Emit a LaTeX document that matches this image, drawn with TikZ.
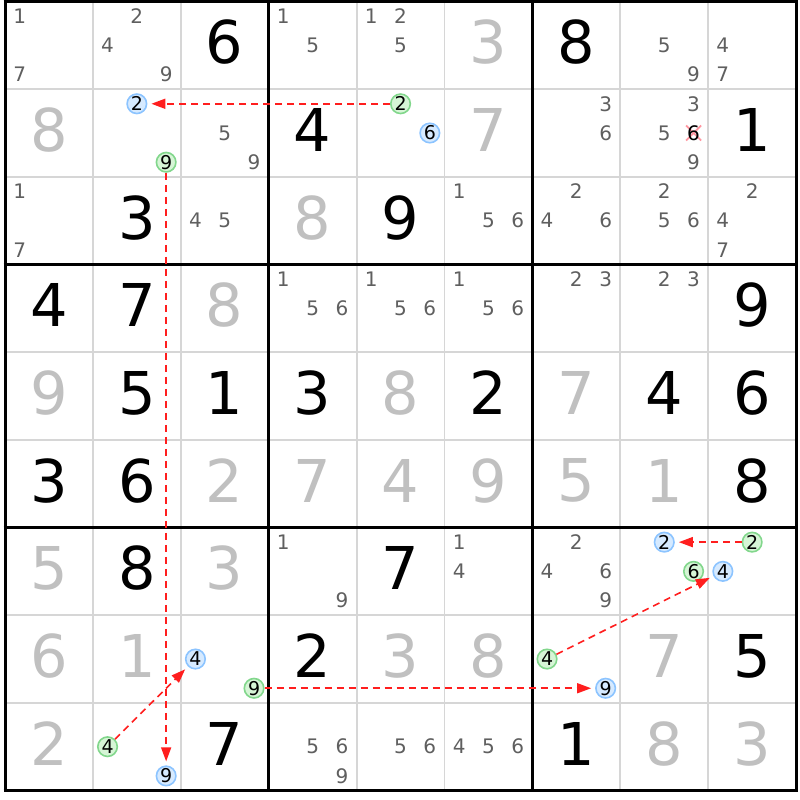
\documentclass[tikz,border=0pt]{standalone}
\usepackage{fontspec}
\setmainfont{DejaVu Sans}
\usetikzlibrary{arrows.meta}
\definecolor{candgray}{RGB}{95,95,95}
\definecolor{solvgray}{RGB}{192,192,192}
\definecolor{gridgray}{RGB}{214,214,214}
\definecolor{bluefill}{RGB}{214,234,255}
\definecolor{bluedraw}{RGB}{140,196,255}
\definecolor{greenfill}{RGB}{214,245,214}
\definecolor{greendraw}{RGB}{130,215,140}
\definecolor{linkred}{RGB}{255,30,30}
\definecolor{xpink}{RGB}{255,150,160}
\newcommand\cellxy[2]{%
  \pgfmathsetmacro\cxx{5+(#2-0.5)*87.9}%
  \pgfmathsetmacro\cyy{1.5+(#1-0.5)*87.67}}
\newcommand\subxy[3]{%
  \pgfmathsetmacro\sxx{5+(#2-1)*87.9+(mod(#3-1,3)+0.5)*29.3}%
  \pgfmathsetmacro\syy{1.5+(#1-1)*87.67+(floor((#3-1)/3)+0.5)*29.22}}
\newcommand\cnd[3]{\foreach \dd in {#3}{\subxy{#1}{#2}{\dd}\node[cand] (k#1#2\dd) at (\sxx,\syy) {\dd};}}
\newcommand\gvn[3]{\cellxy{#1}{#2}\node[givendig] (g#1#2) at (\cxx,\cyy-3) {#3};}
\newcommand\slv[3]{\cellxy{#1}{#2}\node[solvdig] (s#1#2) at (\cxx,\cyy-3) {#3};}
\newcommand\bcirc[4]{\subxy{#2}{#3}{#4}\node[bluec] (#1) at (\sxx,\syy) {#4};}
\newcommand\gcirc[4]{\subxy{#2}{#3}{#4}\node[greenc] (#1) at (\sxx,\syy) {#4};}
\tikzset{
  cand/.style={font=\fontsize{20}{20}\selectfont, text=candgray, inner sep=0pt},
  givendig/.style={font=\fontsize{59}{59}\selectfont, text=black, inner sep=0pt},
  solvdig/.style={givendig, text=solvgray},
  circbase/.style={circle, line width=1.6pt, minimum size=19.5pt, inner sep=0pt, font=\fontsize{19}{19}\selectfont, text=black},
  bluec/.style={circbase, draw=bluedraw, fill=bluefill},
  greenc/.style={circbase, draw=greendraw, fill=greenfill},
  thin grid/.style={draw=gridgray, line width=1.8pt},
  thick grid/.style={draw=black, line width=3pt},
  link/.style={draw=linkred, line width=1.6pt, dash pattern=on 7pt off 5pt, -{Triangle[length=14pt,width=10pt]}, shorten >=4pt}
}
\begin{document}
\begin{tikzpicture}[x=1pt,y=-1pt]
\useasboundingbox (0,0) rectangle (800,800);
\fill[white] (0,0) rectangle (800,800);
% grid
\foreach \i in {1,2,4,5,7,8}{
  \draw[thin grid] ({5+\i*87.9},1.5) -- ({5+\i*87.9},790.5);
  \draw[thin grid] (5,{1.5+\i*87.67}) -- (796,{1.5+\i*87.67});
}
\foreach \i in {0,3,6,9}{
  \draw[thick grid] ({5+\i*87.9},0) -- ({5+\i*87.9},792);
  \draw[thick grid] (3.5,{1.5+\i*87.67}) -- (797.5,{1.5+\i*87.67});
}
% row 1
\cnd{1}{1}{1,7} \cnd{1}{2}{2,4,9} \gvn{1}{3}{6} \cnd{1}{4}{1,5} \cnd{1}{5}{1,2,5}
\slv{1}{6}{3} \gvn{1}{7}{8} \cnd{1}{8}{5,9} \cnd{1}{9}{4,7}
% row 2
\slv{2}{1}{8} \bcirc{c22b2}{2}{2}{2} \gcirc{c22g9}{2}{2}{9} \cnd{2}{3}{5,9} \gvn{2}{4}{4}
\gcirc{c25g2}{2}{5}{2} \bcirc{c25b6}{2}{5}{6} \slv{2}{6}{7} \cnd{2}{7}{3,6} \cnd{2}{8}{3,5,9}
\subxy{2}{8}{6}
\coordinate (xpos) at (\sxx,\syy);
\draw[xpink, line width=1.8pt] (xpos) +(-7.5,-7.5) -- +(7.5,7.5) (xpos) +(-7.5,7.5) -- +(7.5,-7.5);
\node[cand, text=black] (k286) at (xpos) {6};
\gvn{2}{9}{1}
% row 3
\cnd{3}{1}{1,7} \gvn{3}{2}{3} \cnd{3}{3}{4,5} \slv{3}{4}{8} \gvn{3}{5}{9} \cnd{3}{6}{1,5,6}
\cnd{3}{7}{2,4,6} \cnd{3}{8}{2,5,6} \cnd{3}{9}{2,4,7}
% row 4
\gvn{4}{1}{4} \gvn{4}{2}{7} \slv{4}{3}{8} \cnd{4}{4}{1,5,6} \cnd{4}{5}{1,5,6} \cnd{4}{6}{1,5,6}
\cnd{4}{7}{2,3} \cnd{4}{8}{2,3} \gvn{4}{9}{9}
% row 5
\slv{5}{1}{9} \gvn{5}{2}{5} \gvn{5}{3}{1} \gvn{5}{4}{3} \slv{5}{5}{8} \gvn{5}{6}{2}
\slv{5}{7}{7} \gvn{5}{8}{4} \gvn{5}{9}{6}
% row 6
\gvn{6}{1}{3} \gvn{6}{2}{6} \slv{6}{3}{2} \slv{6}{4}{7} \slv{6}{5}{4} \slv{6}{6}{9}
\slv{6}{7}{5} \slv{6}{8}{1} \gvn{6}{9}{8}
% row 7
\slv{7}{1}{5} \gvn{7}{2}{8} \slv{7}{3}{3} \cnd{7}{4}{1,9} \gvn{7}{5}{7} \cnd{7}{6}{1,4}
\cnd{7}{7}{2,4,6,9} \bcirc{c78b2}{7}{8}{2} \gcirc{c78g6}{7}{8}{6}
\gcirc{c79g2}{7}{9}{2} \bcirc{c79b4}{7}{9}{4}
% row 8
\slv{8}{1}{6} \slv{8}{2}{1} \bcirc{c83b4}{8}{3}{4} \gcirc{c83g9}{8}{3}{9} \gvn{8}{4}{2}
\slv{8}{5}{3} \slv{8}{6}{8} \gcirc{c87g4}{8}{7}{4} \bcirc{c87b9}{8}{7}{9} \slv{8}{8}{7} \gvn{8}{9}{5}
% row 9
\slv{9}{1}{2} \gcirc{c92g4}{9}{2}{4} \bcirc{c92b9}{9}{2}{9} \gvn{9}{3}{7} \cnd{9}{4}{5,6,9}
\cnd{9}{5}{5,6} \cnd{9}{6}{4,5,6} \gvn{9}{7}{1} \slv{9}{8}{8} \slv{9}{9}{3}
% links
\draw[link] (c25g2) -- (c22b2);
\draw[link] (c22g9) -- (c92b9);
\draw[link] (c92g4) -- (c83b4);
\draw[link] (c83g9) -- (c87b9);
\draw[link] (c87g4) -- (c79b4);
\draw[link] (c79g2) -- (c78b2);
\end{tikzpicture}
\end{document}
